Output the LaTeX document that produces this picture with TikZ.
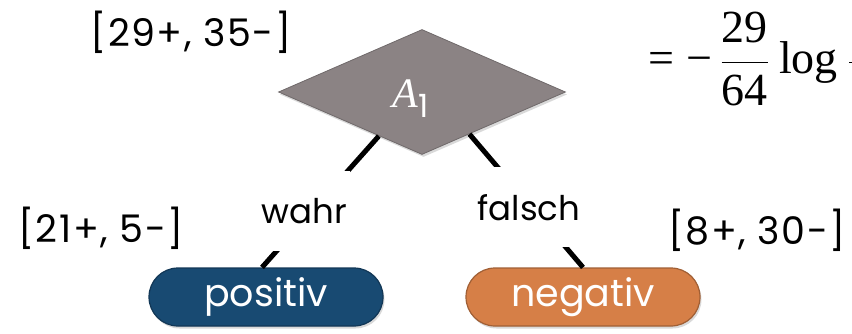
\documentclass[tikz,border=0pt]{standalone}
\usepackage{fix-cm}
\usepackage{amsmath}
\usepackage{fontspec}
\setmainfont{Liberation Serif}
\newfontfamily\geo{Poppins}
\newfontfamily\geocnt[Numbers=Monospaced,LetterSpace=4]{Poppins}
\usetikzlibrary{shapes.geometric,shapes.misc,calc,shadows}
\definecolor{dgrey}{HTML}{8B8384}
\definecolor{pblue}{HTML}{184A72}
\definecolor{porange}{HTML}{D67F47}
\tikzset{
  cnt/.style={font=\geocnt\fontsize{38}{40}\selectfont, inner sep=0pt},
  lbl/.style={font=\geo\fontsize{34}{40}\selectfont, fill=white, inner xsep=3pt, minimum height=80pt},
  edge/.style={line width=5pt, black},
  pill/.style={rounded rectangle, minimum width=234pt, minimum height=58pt, inner sep=0pt,
    text=white, font=\geo\fontsize{38}{40}\selectfont, draw=#1!75!black, line width=1.2pt, fill=#1,
    drop shadow={opacity=0.3, shadow xshift=1.5pt, shadow yshift=-2.5pt}},
  dia/.style={diamond, aspect=2.3, minimum width=287pt, minimum height=125pt, inner sep=0pt,
    fill=dgrey, draw=dgrey!80!black, line width=0.8pt,
    drop shadow={opacity=0.3, shadow xshift=1.5pt, shadow yshift=-2.5pt}}
}
\begin{document}
\begin{tikzpicture}[x=1pt,y=-1pt]
\useasboundingbox (0,0) rectangle (852,334);
\clip (0,0) rectangle (852,334);
% root
\node[dia] (d) at (422,92) {};
\node[text=white, font=\fontsize{42}{44}\selectfont, inner sep=0pt, anchor=base west] (a1) at (392,108)
  {\itshape A\kern1pt\raisebox{-10pt}{\upshape\geo\fontsize{32}{34}\selectfont 1}};
% counts
\node[cnt] (c0) at (191,32) {[29+, 35-]};
\node[cnt] (c1) at (101,228) {[21+, 5-]};
\node[cnt] (c2) at (757,230) {[8+, 30-]};
% leaves
\node[pill=pblue] (pos) at (266,297) {positiv};
\node[pill=porange] (neg) at (583,297) {negativ};
% edges
\coordinate (dl) at ($(d.west)!0.7!(d.south)$);
\coordinate (dr) at ($(d.south)!0.33!(d.east)$);
\draw[edge] (dl) -- node[lbl, pos=0.57, xshift=-8pt] (wahr) {wahr} ($(pos.north)+(-4,0)$);
\draw[edge] (dr) -- node[lbl, pos=0.55, xshift=-3pt] (falsch) {falsch} (neg.north);
% formula
\node[anchor=base west, font=\fontsize{46}{50}\selectfont, inner sep=0pt] (f) at (648,74)
  {$\text{=}\mkern5mu\text{−}\mkern3mu\genfrac{}{}{1.8pt}{0}{\text{29}}{\text{64}}\mkern4mu\text{log}\mkern4mu\genfrac{}{}{1.8pt}{0}{\hphantom{\text{29}}}{\hphantom{\text{64}}}$};
\end{tikzpicture}
\end{document}
